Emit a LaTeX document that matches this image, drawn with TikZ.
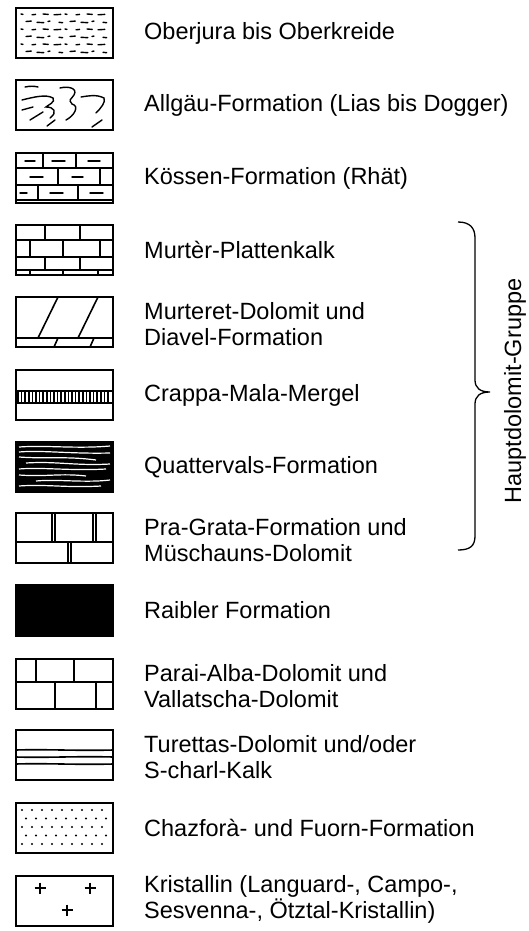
\documentclass[tikz,border=0pt]{standalone}
\usepackage{fontspec}
\setmainfont{Liberation Sans}
\usepackage{tikz}

\begin{document}
\begin{tikzpicture}
[x=1pt, y=-1pt,
swatch/.style={draw, line width = 2.2pt},
joint/.style={line width = 1.6pt},
streak/.style={white, line width = 1.2pt},
squiggle/.style={line width = 1.4pt, line cap = round},
dash mark/.style={line width = 1.4pt, line cap = round},
legend text/.style={anchor=west, inner sep=0pt, align=left, font=\fontsize{23.5}{26}\selectfont}]
\useasboundingbox (0,0) rectangle (528,931);
% Oberjura bis Oberkreide
\begin{scope}[shift={(16,8)}]
\foreach \r in {0,...,5}
  \foreach \k in {0,...,7}
    \draw[dash mark] ({5+11*\k+mod(\r,2)*5},{6+7.5*\r+mod(\k,2)*0.8}) -- ++({2+mod(\k+2*\r,4)*1.6},{0.4-mod(\k+\r,2)*0.8});
\draw[swatch] (0,0) rectangle (97,50);
\end{scope}
\node[legend text] (oberjura) at (144,33) {Oberjura bis Oberkreide};
% Allgaeu-Formation
\begin{scope}[shift={(16,80)}]
\draw[squiggle] (9,7) .. controls (14,6) and (18,6) .. (22,7);
\draw[squiggle] (6,20) .. controls (18,17) and (30,14) .. (37,18) .. controls (40,22) and (32,25) .. (30,27) .. controls (38,27) and (42,32) .. (34,38);
\draw[squiggle] (44,8) .. controls (52,6) and (62,8) .. (58,15) .. controls (55,20) and (52,19) .. (56,24) .. controls (64,26) and (58,36) .. (50,40);
\draw[squiggle] (65,17) .. controls (72,16) and (80,14) .. (88,18) .. controls (90,22) and (85,28) .. (80,33);
\draw[squiggle] (6,30) -- (17,27);
\draw[squiggle] (14,40) -- (27,32);
\draw[squiggle] (31,46) -- (39,40);
\draw[squiggle] (76,47) -- (86,40);
\draw[swatch] (0,0) rectangle (97,50);
\end{scope}
\node[legend text] (allgaeu) at (144,105) {Allgäu-Formation (Lias bis Dogger)};
% Koessen-Formation
\begin{scope}[shift={(16,153)}]
\draw[joint] (0,15) -- (97,15) (0,32) -- (97,32) (0,47) -- (97,47);
\draw[joint] (27,0) -- (27,15) (60,0) -- (60,15) (42,15) -- (42,32) (84,15) -- (84,32) (22,32) -- (22,47) (62,32) -- (62,47);
\draw[dash mark] (9,8) -- (19,8) (36,8) -- (49,8) (72,8) -- (84,8);
\draw[dash mark] (14,24) -- (27,24) (56,24) -- (67,24);
\draw[dash mark] (4,40) -- (11,40) (34,40) -- (47,40) (74,40) -- (87,40);
\draw[swatch] (0,0) rectangle (97,50);
\end{scope}
\node[legend text] (koessen) at (144,178) {Kössen-Formation (Rhät)};
% Murter-Plattenkalk
\begin{scope}[shift={(16,225)}]
\draw[joint] (0,15) -- (97,15) (0,32) -- (97,32) (0,45) -- (97,45);
\draw[joint] (29,0) -- (29,15) (64,0) -- (64,15) (14,15) -- (14,32) (47,15) -- (47,32) (84,15) -- (84,32);
\draw[joint] (29,32) -- (29,45) (64,32) -- (64,45) (14,45) -- (14,50) (47,45) -- (47,50) (82,45) -- (82,50);
\draw[swatch] (0,0) rectangle (97,50);
\end{scope}
\node[legend text] (murter) at (144,250) {Murtèr-Plattenkalk};
% Murteret-Dolomit
\begin{scope}[shift={(16,297)}]
\draw[joint] (0,41) -- (97,41);
\draw[joint] (22,41) -- (42,0) (62,41) -- (82,0);
\draw[joint] (38,50) -- (42,41) (74,50) -- (78,41);
\draw[swatch] (0,0) rectangle (97,50);
\end{scope}
\node[legend text] (murteret) at (144,324) {Murteret-Dolomit und\\Diavel-Formation};
% Crappa-Mala-Mergel
\begin{scope}[shift={(16,370)}]
\foreach \x in {2,5.6,...,95}
  \draw[line width = 1.6pt] (\x,21) -- (\x,33);
\draw[line width = 2pt] (0,21) -- (97,21) (0,33) -- (97,33);
\draw[swatch] (0,0) rectangle (97,50);
\end{scope}
\node[legend text] (crappa) at (144,395) {Crappa-Mala-Mergel};
% Quattervals-Formation
\begin{scope}[shift={(16,442)}]
\fill (0,0) rectangle (97,50);
\draw[streak] (3,5) .. controls (30,3) and (60,7) .. (94,4);
\draw[streak] (3,10) .. controls (25,8) and (55,12) .. (94,11);
\draw[streak] (3,15) .. controls (30,17) and (50,14) .. (80,18);
\draw[streak] (10,21) .. controls (40,19) and (60,24) .. (94,22);
\draw[streak] (3,27) .. controls (25,25) and (55,29) .. (90,27);
\draw[streak] (3,33) .. controls (30,35) and (45,31) .. (70,34);
\draw[streak] (20,39) .. controls (40,37) and (70,41) .. (94,38);
\draw[streak] (3,44) .. controls (30,42) and (50,46) .. (85,44);
\draw[swatch] (0,0) rectangle (97,50);
\end{scope}
\node[legend text] (quattervals) at (144,467) {Quattervals-Formation};
% Pra-Grata-Formation
\begin{scope}[shift={(16,513)}]
\draw[joint] (0,29) -- (97,29);
\draw[joint] (36,0) -- (36,29) (39,0) -- (39,29) (77,0) -- (77,29) (80,0) -- (80,29) (52,29) -- (52,50) (55,29) -- (55,50);
\draw[swatch] (0,0) rectangle (97,50);
\end{scope}
\node[legend text] (pragrata) at (144,540) {Pra-Grata-Formation und\\Müschauns-Dolomit};
% Raibler Formation
\draw[swatch, fill=black] (16,585) rectangle (113,636);
\node[legend text] (raibler) at (144,610) {Raibler Formation};
% Parai-Alba-Dolomit
\begin{scope}[shift={(16,659)}]
\draw[joint] (0,23) -- (97,23) (20,0) -- (20,23) (58,0) -- (58,23) (39,23) -- (39,50) (80,23) -- (80,50);
\draw[swatch] (0,0) rectangle (97,50);
\end{scope}
\node[legend text] (parai) at (144,686) {Parai-Alba-Dolomit und\\Vallatscha-Dolomit};
% Turettas-Dolomit
\begin{scope}[shift={(16,730)}]
\draw[joint] (0,20) .. controls (30,19) and (60,21) .. (97,20);
\draw[joint] (0,27) .. controls (30,28) and (60,26) .. (97,27);
\draw[joint] (0,34) .. controls (30,33) and (60,35) .. (97,34);
\draw[swatch] (0,0) rectangle (97,50);
\end{scope}
\node[legend text] (turettas) at (144,757) {Turettas-Dolomit und/oder\\S-charl-Kalk};
% Chazfora- und Fuorn-Formation
\begin{scope}[shift={(16,803)}]
\foreach \r in {0,...,4}
  \foreach \k in {0,...,8}
    \fill ({6+10*\k+mod(\r,2)*4},{7+8.5*\r}) circle (1.2pt);
\draw[swatch] (0,0) rectangle (97,50);
\end{scope}
\node[legend text] (chazfora) at (144,828) {Chazforà- und Fuorn-Formation};
% Kristallin
\begin{scope}[shift={(16,876)}]
\foreach \p in {(24,12),(74,12),(51,34)}
  \draw[line width = 2pt] \p ++(-5.5,0) -- ++(11,0) \p ++(0,-5.5) -- ++(0,11);
\draw[swatch] (0,0) rectangle (97,50);
\end{scope}
\node[legend text] (kristallin) at (144,899) {Kristallin (Languard-, Campo-,\\Sesvenna-, Ötztal-Kristallin)};
% Hauptdolomit-Gruppe
\draw[line width = 1.3pt] (458,222) .. controls (470,222) and (475,228) .. (475,238) -- (475,380) .. controls (475,388) and (480,392) .. (490,392) .. controls (480,392) and (475,396) .. (475,404) -- (475,536) .. controls (475,546) and (470,550) .. (458,550);
\node[rotate=90, inner sep=0pt, font=\fontsize{23.5}{26}\selectfont] (hauptdolomit) at (515,391) {Hauptdolomit-Gruppe};
\end{tikzpicture}
\end{document}
